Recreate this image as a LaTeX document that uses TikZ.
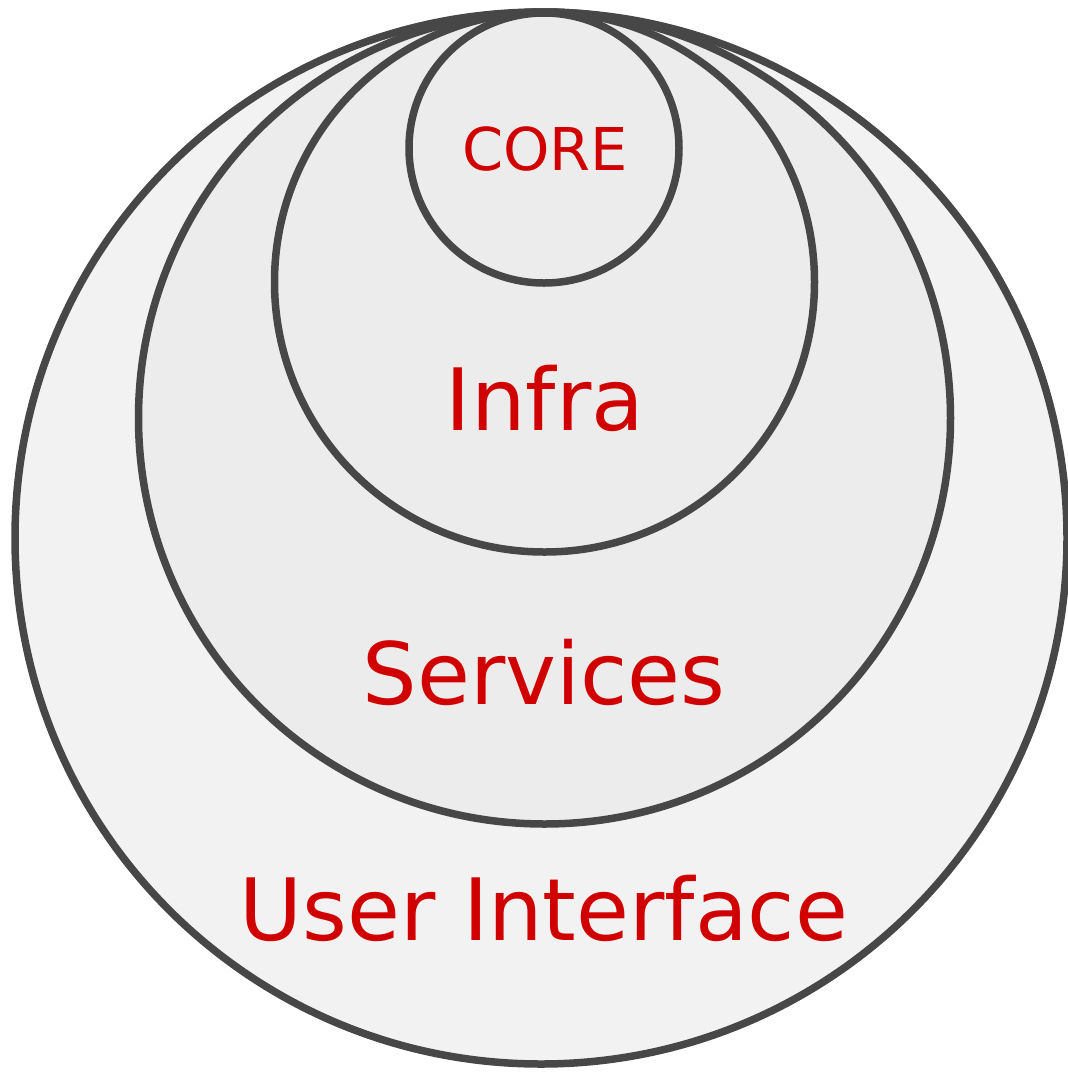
\documentclass[tikz,border=0pt]{standalone}
\usepackage{fontspec}
\setmainfont{DejaVu Sans}
\definecolor{ringline}{RGB}{71,71,71}
\definecolor{outerfill}{RGB}{242,242,242}
\definecolor{innerfill}{RGB}{236,236,236}
\definecolor{labelred}{RGB}{208,0,0}
\tikzset{
  ring/.style={circle, draw=ringline, line width=7.5pt, inner sep=0pt, outer sep=0pt},
  layerlabel/.style={text=labelred, anchor=base, inner sep=0pt},
}
\begin{document}
\begin{tikzpicture}[x=1pt, y=-1pt]
  \useasboundingbox (0,0) rectangle (1068,1072);
  % concentric layers, all touching at the top
  \node[ring, fill=outerfill, minimum size=1052pt] (ui) at (541,538) {};
  \node[ring, fill=innerfill, minimum size=812pt] (services) at (544.5,418) {};
  \node[ring, fill=innerfill, minimum size=540pt] (infra) at (544.5,282) {};
  \node[ring, fill=innerfill, minimum size=270pt] (core) at (544,148) {};
  % layer names
  \node[layerlabel, font=\fontsize{59}{59}\selectfont] (coretext) at (545,170) {CORE};
  \node[layerlabel, font=\fontsize{86}{86}\selectfont] (infratext) at (545,430) {Infra};
  \node[layerlabel, font=\fontsize{86}{86}\selectfont] (servicestext) at (544,704) {Services};
  \node[layerlabel, font=\fontsize{86}{86}\selectfont] (uitext) at (544,940) {User Interface};
\end{tikzpicture}
\end{document}
